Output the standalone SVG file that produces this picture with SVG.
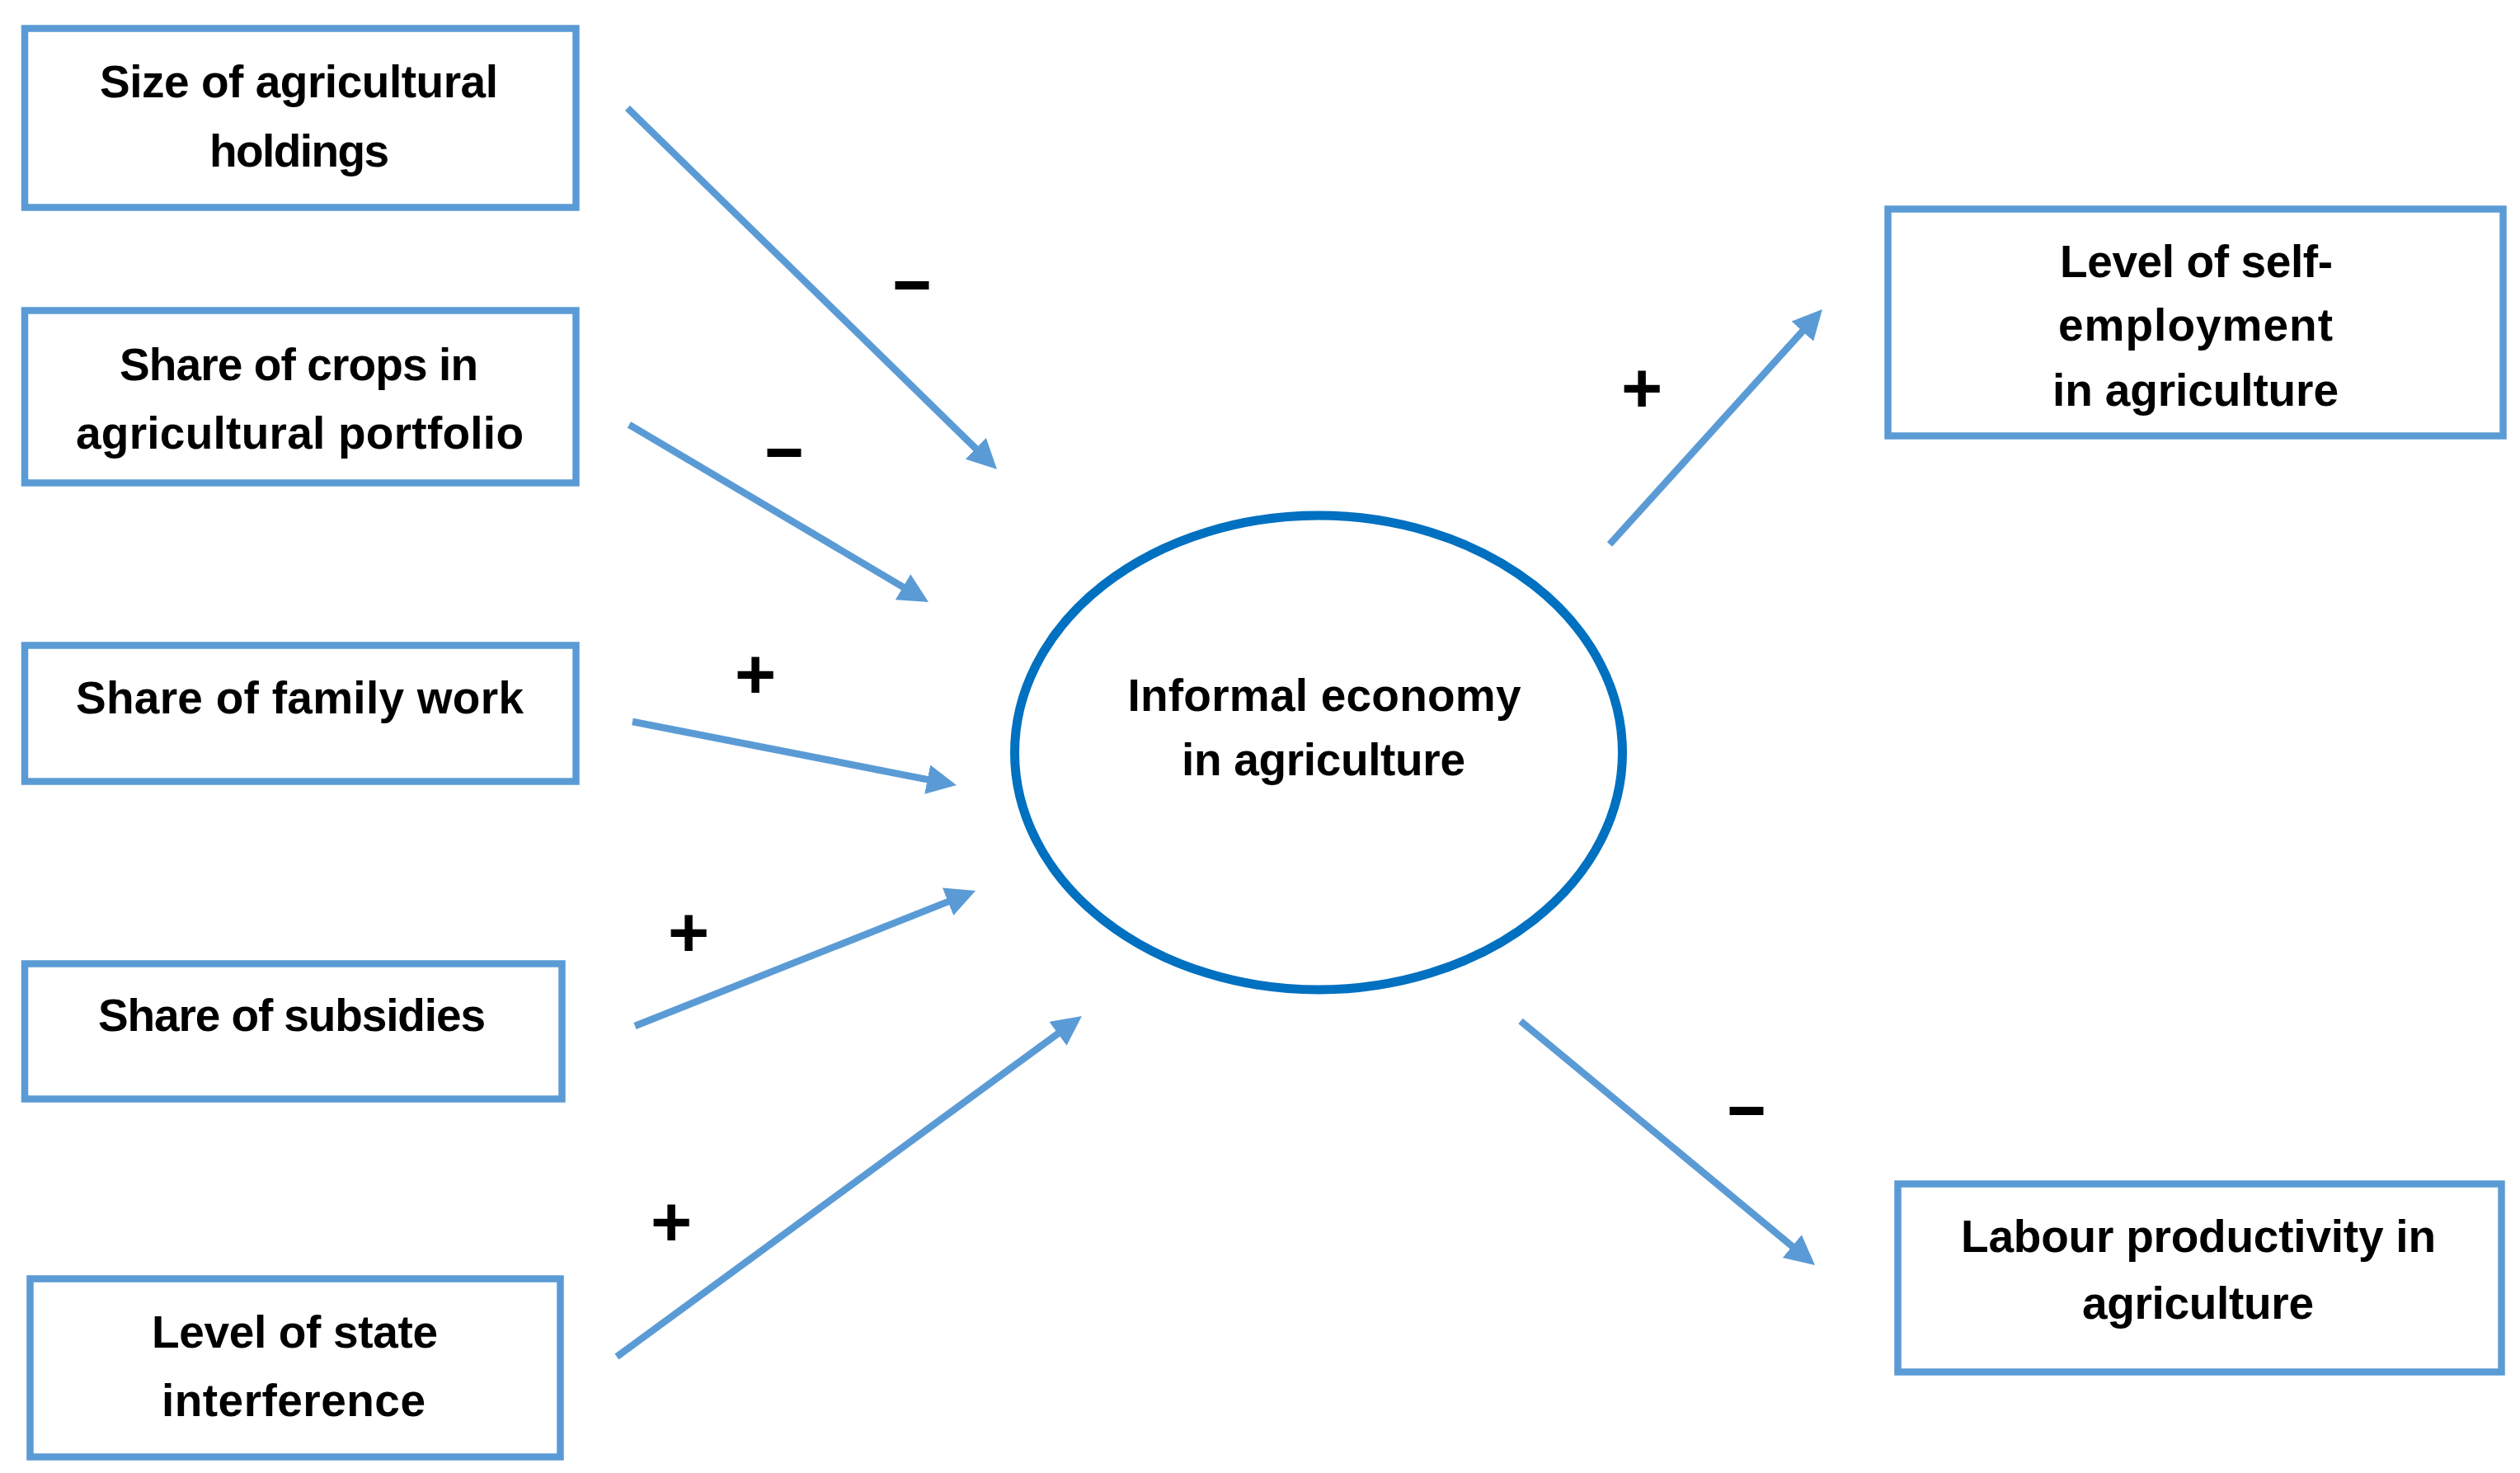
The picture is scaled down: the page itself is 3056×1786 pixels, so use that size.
<svg xmlns="http://www.w3.org/2000/svg" width="3056" height="1786" viewBox="0 0 3056 1786">
<style>
.box{fill:#FFFFFF;stroke:#5B9BD5;stroke-width:8.5}
.oval{fill:#FFFFFF;stroke:#0070C0;stroke-width:11}
.lbl{font-family:"Liberation Sans",Arial,sans-serif;font-weight:bold;font-size:55px;fill:#000000;text-anchor:middle}
.sign{font-family:"Liberation Sans",Arial,sans-serif;font-weight:bold;fill:#000000;text-anchor:middle}
.plus{font-size:86px}
.minus{font-size:100px}
.arrow{stroke:#5B9BD5;stroke-width:8.5;fill:none;marker-end:url(#head)}
</style>
<defs>
<marker id="head" markerUnits="userSpaceOnUse" markerWidth="36" markerHeight="36" refX="14" refY="18" orient="auto">
<path d="M0,0 L36,18 L0,36 Z" fill="#5B9BD5"/>
</marker>
</defs>
<rect width="3056" height="1786" fill="#FFFFFF"/>
<g id="connectors">
<line class="arrow" x1="761" y1="131" x2="1193.3" y2="553.6"/>
<line class="arrow" x1="763" y1="515" x2="1107.1" y2="718.8"/>
<line class="arrow" x1="767" y1="875" x2="1138.4" y2="947.8"/>
<line class="arrow" x1="770" y1="1244" x2="1162.6" y2="1088.1"/>
<line class="arrow" x1="748" y1="1645" x2="1294.2" y2="1245.0"/>
<line class="arrow" x1="1952" y1="660" x2="2195.2" y2="391.3"/>
<line class="arrow" x1="1844" y1="1238" x2="2184.1" y2="1520.0"/>
<text class="sign minus" x="1106" y="373" textLength="46" lengthAdjust="spacingAndGlyphs">–</text>
<text class="sign minus" x="951" y="576" textLength="46" lengthAdjust="spacingAndGlyphs">–</text>
<text class="sign plus" x="916" y="847">+</text>
<text class="sign plus" x="835" y="1160">+</text>
<text class="sign plus" x="814" y="1511">+</text>
<text class="sign plus" x="1991" y="500">+</text>
<text class="sign minus" x="2118" y="1374" textLength="46" lengthAdjust="spacingAndGlyphs">–</text>
</g>
<g id="size-holdings">
<rect class="box" x="30" y="34.5" width="668.5" height="217"/>
<text class="lbl" x="362.5" y="118" textLength="483">Size of agricultural</text>
<text class="lbl" x="363" y="202" textLength="218">holdings</text>
</g>
<g id="share-crops">
<rect class="box" x="30" y="376.5" width="668.5" height="209"/>
<text class="lbl" x="362.5" y="461" textLength="435">Share of crops in</text>
<text class="lbl" x="363.5" y="544" textLength="543">agricultural portfolio</text>
</g>
<g id="share-family">
<rect class="box" x="30" y="782.5" width="668.5" height="165"/>
<text class="lbl" x="363.5" y="865" textLength="543">Share of family work</text>
</g>
<g id="share-subsidies">
<rect class="box" x="30" y="1168.5" width="651.5" height="164"/>
<text class="lbl" x="354" y="1250" textLength="470">Share of subsidies</text>
</g>
<g id="state-interference">
<rect class="box" x="36.5" y="1550.5" width="643" height="216"/>
<text class="lbl" x="357.5" y="1634" textLength="347">Level of state</text>
<text class="lbl" x="356" y="1717" textLength="320">interference</text>
</g>
<g id="informal-economy">
<ellipse class="oval" cx="1599" cy="912.5" rx="368.5" ry="287.5"/>
<text class="lbl" x="1606" y="862" textLength="477">Informal economy</text>
<text class="lbl" x="1605" y="940" textLength="344">in agriculture</text>
</g>
<g id="self-employment">
<rect class="box" x="2289.5" y="253.5" width="746" height="275"/>
<text class="lbl" x="2663.5" y="336" textLength="331">Level of self-</text>
<text class="lbl" x="2662.5" y="413" textLength="333">employment</text>
<text class="lbl" x="2662.5" y="492" textLength="347">in agriculture</text>
</g>
<g id="labour-productivity">
<rect class="box" x="2301.5" y="1435.5" width="732" height="228"/>
<text class="lbl" x="2666" y="1518" textLength="576">Labour productivity in</text>
<text class="lbl" x="2665.5" y="1599" textLength="281">agriculture</text>
</g>
</svg>
